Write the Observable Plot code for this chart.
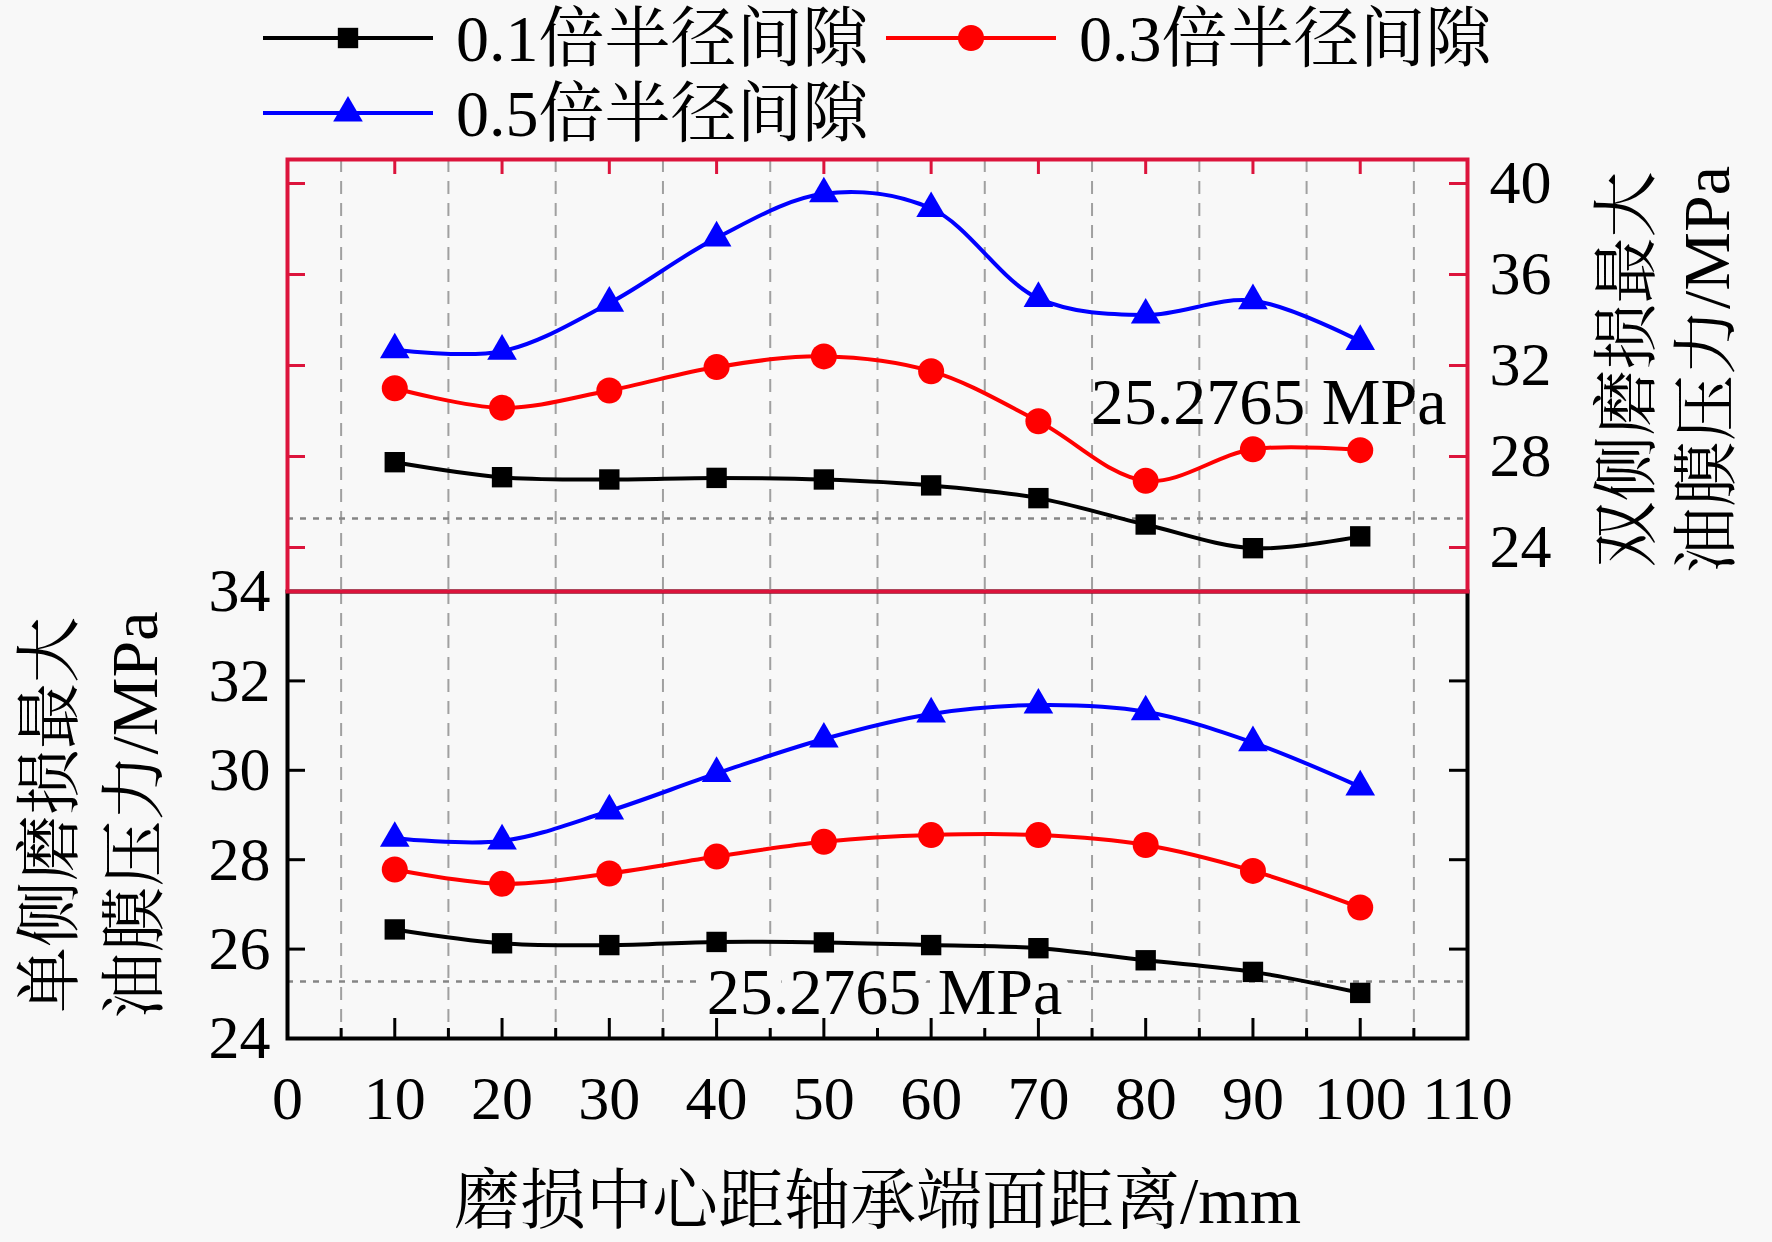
<!DOCTYPE html>
<html>
<head>
<meta charset="utf-8">
<script src="https://cdn.jsdelivr.net/npm/d3@7"></script>
<script src="https://cdn.jsdelivr.net/npm/@observablehq/plot@0.6"></script>
<style>
html, body { margin: 0; padding: 0; background: #f8f8f8; }
#wrap { position: relative; width: 1772px; height: 1242px; overflow: hidden; background: #f8f8f8; }
#wrap > svg { position: absolute; left: 0; }
</style>
</head>
<body>
<div id="wrap"></div>
<script>
// ---------- data ----------
const distance = [10, 20, 30, 40, 50, 60, 70, 80, 90, 100];
const seriesNames = ["0.1倍半径间隙", "0.3倍半径间隙", "0.5倍半径间隙"];
const seriesColors = ["#000000", "#ff0000", "#0000ff"];
const seriesSymbols = ["square", "circle", "triangle"];

// 双侧磨损 (top panel, right axis)
const double01 = [27.75, 27.09, 26.99, 27.06, 26.99, 26.73, 26.17, 25.01, 23.97, 24.49];
const double03 = [31.00, 30.14, 30.90, 31.93, 32.40, 31.75, 29.55, 26.93, 28.32, 28.28];
const double05 = [32.69, 32.63, 34.74, 37.61, 39.55, 38.90, 34.95, 34.22, 34.85, 33.06];

// 单侧磨损 (bottom panel, left axis)
const single01 = [26.44, 26.13, 26.09, 26.16, 26.15, 26.09, 26.02, 25.75, 25.49, 25.02];
const single03 = [27.78, 27.46, 27.69, 28.07, 28.40, 28.55, 28.55, 28.33, 27.75, 26.93];
const single05 = [28.48, 28.42, 29.09, 29.93, 30.70, 31.26, 31.46, 31.31, 30.62, 29.63];

const refPressure = 25.2765;

const xTickValues = [0, 10, 20, 30, 40, 50, 60, 70, 80, 90, 100, 110];
const xMajorInner = [10, 20, 30, 40, 50, 60, 70, 80, 90, 100];
const xMinorValues = [5, 15, 25, 35, 45, 55, 65, 75, 85, 95, 105];
const topYTickValues = [24, 28, 32, 36, 40];
const bottomYTickValues = [24, 26, 28, 30, 32, 34];
const bottomYInnerTicks = [26, 28, 30, 32];

const leftTitle = ["单侧磨损最大", "油膜压力/MPa"];
const rightTitle = ["双侧磨损最大", "油膜压力/MPa"];
const xTitle = "磨损中心距轴承端面距离/mm";

// ---------- layout / style ----------
const FONT = '"Liberation Serif", "Noto Serif CJK SC", "Noto Sans CJK SC", serif';
const BG = "#f8f8f8";
const BOXRED = "#dc143c";
const W = 1772, FL = 287, FR = 1467;
const FW = FR - FL;
const dotR = [11.5, 13, 11];
const LINE_W = 4;

function rowsOf(arrays) {
  return arrays.flatMap((arr, i) => arr.map((v, j) => ({x: distance[j], y: v, series: seriesNames[i], i})));
}
const topRows = rowsOf([double01, double03, double05]);
const bottomRows = rowsOf([single01, single03, single05]);

function seriesMarks(rows) {
  const marks = [];
  seriesNames.forEach((name, i) => {
    const r = rows.filter(d => d.i === i);
    marks.push(Plot.line(r, {x: "x", y: "y", stroke: seriesColors[i], strokeWidth: LINE_W, curve: "catmull-rom"}));
  });
  seriesNames.forEach((name, i) => {
    const r = rows.filter(d => d.i === i);
    marks.push(Plot.dot(r, {x: "x", y: "y", symbol: () => seriesSymbols[i], fill: seriesColors[i], r: dotR[i], stroke: "none"}));
  });
  return marks;
}

const wrap = document.getElementById("wrap");

// ---------- legend ----------
const legend = d3.create("svg").attr("width", W).attr("height", 159)
  .style("top", "0px").style("font-family", FONT).style("overflow", "visible");
const legendItems = [
  {i: 0, lx: 263, rx: 433, tx: 456, y: 38},
  {i: 1, lx: 886, rx: 1056, tx: 1079, y: 38},
  {i: 2, lx: 263, rx: 433, tx: 456, y: 113}
];
const d3sym = {square: d3.symbolSquare, circle: d3.symbolCircle, triangle: d3.symbolTriangle};
legendItems.forEach(it => {
  const g = legend.append("g");
  g.append("line").attr("x1", it.lx).attr("x2", it.rx).attr("y1", it.y).attr("y2", it.y)
    .attr("stroke", seriesColors[it.i]).attr("stroke-width", LINE_W);
  g.append("path")
    .attr("d", d3.symbol(d3sym[seriesSymbols[it.i]], Math.PI * dotR[it.i] * dotR[it.i])())
    .attr("transform", `translate(${(it.lx + it.rx) / 2},${it.y})`)
    .attr("fill", seriesColors[it.i]);
  g.append("text").attr("x", it.tx).attr("y", it.y).attr("dy", "0.35em")
    .attr("font-size", 66).attr("fill", "#000").text(seriesNames[it.i]);
});
wrap.appendChild(legend.node());

// ---------- bottom panel (单侧) ----------
const bTop = 500, bMT = 91, bMB = 204, bH = 742;
const bFH = bH - bMT - bMB;
const bottomPlot = Plot.plot({
  width: W, height: bH,
  marginTop: bMT, marginBottom: bMB, marginLeft: FL, marginRight: W - FR,
  x: {domain: [0, 110]},
  y: {domain: [24, 34]},
  style: {background: "transparent", overflow: "visible", fontFamily: FONT, fontSize: "62px", color: "#000"},
  marks: [
    Plot.ruleX(xMinorValues, {x: d => d, stroke: "#a0a0a0", strokeWidth: 2, strokeDasharray: "13,9"}),
    Plot.ruleY([refPressure], {y: d => d, stroke: "#858585", strokeWidth: 2.5, strokeDasharray: "6,7"}),
    Plot.text([refPressure], {y: d => d, frameAnchor: "middle", dx: 7, dy: 11, text: d => `${d} MPa`,
      fontSize: 66, fill: "#000", stroke: BG, strokeWidth: 24}),
    ...seriesMarks(bottomRows),
    Plot.tickX(xMajorInner, {x: d => d, insetTop: bFH - 20, stroke: "#000", strokeWidth: 3}),
    Plot.tickX(xMinorValues, {x: d => d, insetTop: bFH - 10, stroke: "#000", strokeWidth: 3}),
    Plot.tickY(bottomYInnerTicks, {y: d => d, insetRight: FW - 18, stroke: "#000", strokeWidth: 3}),
    Plot.tickY(bottomYInnerTicks, {y: d => d, insetLeft: FW - 18, stroke: "#000", strokeWidth: 3}),
    Plot.frame({stroke: "#000", strokeWidth: 4}),
    Plot.axisX(xTickValues, {anchor: "bottom", tickSize: 0, tickPadding: 36, label: null}),
    Plot.axisY(bottomYTickValues, {anchor: "left", tickSize: 0, tickPadding: 17, label: null}),
    Plot.text([leftTitle[0]], {frameAnchor: "left", textAnchor: "middle", rotate: -90, dx: -237, fontSize: 66, fill: "#000"}),
    Plot.text([leftTitle[1]], {frameAnchor: "left", textAnchor: "middle", rotate: -90, dx: -152, fontSize: 66, fill: "#000"}),
    Plot.text([xTitle], {frameAnchor: "bottom", dy: 184, fontSize: 66, fill: "#000"})
  ]
});
bottomPlot.style.top = bTop + "px";
wrap.appendChild(bottomPlot);

// ---------- top panel (双侧) ----------
const tMT = 159, tMB = 9, tH = 600;
const tFH = tH - tMT - tMB;
const topPlot = Plot.plot({
  width: W, height: tH,
  marginTop: tMT, marginBottom: tMB, marginLeft: FL, marginRight: W - FR,
  x: {domain: [0, 110], axis: null},
  y: {domain: [22.066, 41.055]},
  style: {background: "transparent", overflow: "visible", fontFamily: FONT, fontSize: "62px", color: "#000"},
  marks: [
    Plot.ruleX(xMinorValues, {x: d => d, stroke: "#a0a0a0", strokeWidth: 2, strokeDasharray: "13,9"}),
    Plot.ruleY([refPressure], {y: d => d, stroke: "#858585", strokeWidth: 2.5, strokeDasharray: "6,7"}),
    Plot.text([refPressure], {y: d => d, frameAnchor: "right", textAnchor: "end", dx: -21, dy: -116,
      text: d => `${d} MPa`, fontSize: 66, fill: "#000"}),
    ...seriesMarks(topRows),
    Plot.tickX(xMajorInner, {x: d => d, insetBottom: tFH - 15, stroke: BOXRED, strokeWidth: 3}),
    Plot.tickY(topYTickValues, {y: d => d, insetRight: FW - 18, stroke: BOXRED, strokeWidth: 3}),
    Plot.tickY(topYTickValues, {y: d => d, insetLeft: FW - 18, stroke: BOXRED, strokeWidth: 3}),
    Plot.frame({stroke: BOXRED, strokeWidth: 4}),
    Plot.axisY(topYTickValues, {anchor: "right", tickSize: 0, tickPadding: 22, label: null}),
    Plot.text([rightTitle[0]], {frameAnchor: "right", textAnchor: "middle", rotate: -90, dx: 160, dy: -6, fontSize: 66, fill: "#000"}),
    Plot.text([rightTitle[1]], {frameAnchor: "right", textAnchor: "middle", rotate: -90, dx: 240, dy: -6, fontSize: 66, fill: "#000"})
  ]
});
topPlot.style.top = "0px";
wrap.appendChild(topPlot);
</script>
</body>
</html>
